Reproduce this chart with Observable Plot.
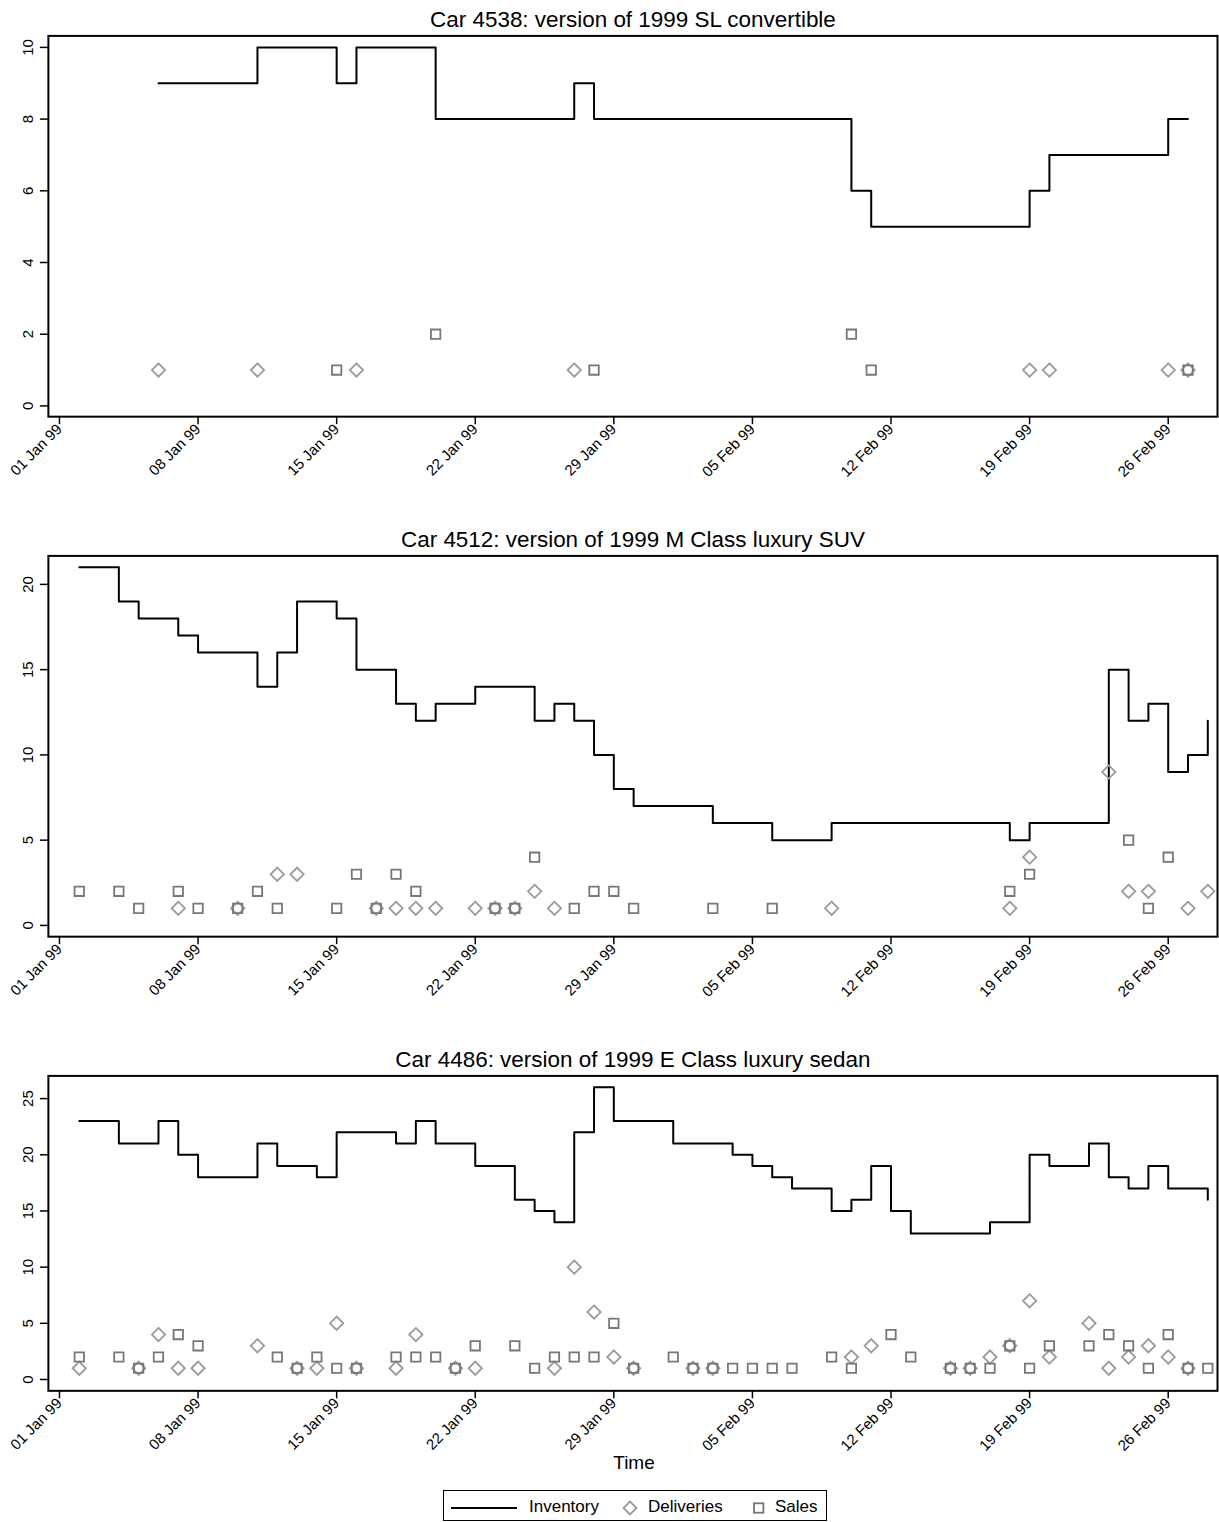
<!DOCTYPE html>
<html>
<head>
<meta charset="utf-8">
<script src="https://cdn.jsdelivr.net/npm/d3@7"></script>
<script src="https://cdn.jsdelivr.net/npm/@observablehq/plot@0.6"></script>
<style>
  html, body { margin: 0; padding: 0; background: #fff; }
  #wrap { position: relative; width: 1219px; height: 1522px; overflow: hidden; background: #fff;
          font-family: "Liberation Sans", Arial, Helvetica, sans-serif; color: #000; }
  #wrap svg { position: absolute; left: 0; }
  .abs { position: absolute; white-space: nowrap; }
</style>
</head>
<body>
<div id="wrap"></div>
<script>
// ---------- data (day offsets from 01 Jan 1999) ----------
const startDate = "1999-01-01";
const tickDates = ["1999-01-01","1999-01-08","1999-01-15","1999-01-22","1999-01-29","1999-02-05","1999-02-12","1999-02-19","1999-02-26"];

const titles = [
  "Car 4538: version of 1999 SL convertible",
  "Car 4512: version of 1999 M Class luxury SUV",
  "Car 4486: version of 1999 E Class luxury sedan"
];

// Car 4538
const inv4538Day = [5,10,14,15,19,26,27,40,41,49,50,56,57];
const inv4538Val = [9,10,9,10,8,9,8,6,5,6,7,8,8];
const del4538Day = [5,10,15,26,49,50,56,57];
const del4538Val = [1,1,1,1,1,1,1,1];
const sal4538Day = [14,19,27,40,41,57];
const sal4538Val = [1,2,1,2,1,1];

// Car 4512
const inv4512Day = [1,3,4,6,7,10,11,12,14,15,17,18,19,21,24,25,26,27,28,29,33,36,39,48,49,53,54,55,56,57,58];
const inv4512Val = [21,19,18,17,16,14,16,19,18,15,13,12,13,14,12,13,12,10,8,7,6,5,6,5,6,15,12,13,9,10,12];
const del4512Day = [6,9,11,12,16,17,18,19,21,22,23,24,25,39,48,49,53,54,55,57,58];
const del4512Val = [1,1,3,3,1,1,1,1,1,1,1,2,1,1,1,4,9,2,2,1,2];
const sal4512Day = [1,3,4,6,7,9,10,11,14,15,16,17,18,22,23,24,26,27,28,29,33,36,48,49,54,55,56];
const sal4512Val = [2,2,1,2,1,1,2,1,1,3,1,3,2,1,1,4,1,2,2,1,1,1,2,3,5,1,4];

// Car 4486
const inv4486Day = [1,3,5,6,7,10,11,13,14,17,18,19,21,23,24,25,26,27,28,31,34,35,36,37,39,40,41,42,43,47,49,50,52,53,54,55,56,58];
const inv4486Val = [23,21,23,20,18,21,19,18,22,21,23,21,19,16,15,14,22,26,23,21,20,19,18,17,15,16,19,15,13,14,20,19,21,18,17,19,17,16];
const del4486Day = [1,4,5,6,7,10,12,13,14,15,17,18,20,21,25,26,27,28,29,32,33,40,41,45,46,47,48,49,50,52,53,54,55,56,57];
const del4486Val = [1,1,4,1,1,3,1,1,5,1,1,4,1,1,1,10,6,2,1,1,1,2,3,1,1,2,3,7,2,5,1,2,3,2,1];
const sal4486Day = [1,3,4,5,6,7,11,12,13,14,15,17,18,19,20,21,23,24,25,26,27,28,29,31,32,33,34,35,36,37,39,40,42,43,45,46,47,48,49,50,52,53,54,55,56,57,58];
const sal4486Val = [2,2,1,2,4,3,2,1,2,1,1,2,2,2,1,3,3,1,2,2,2,5,1,2,1,1,1,1,1,1,2,1,4,2,1,1,1,3,1,3,3,4,3,1,4,1,1];

const yTicks1 = [0,2,4,6,8,10];
const yTicks2 = [0,5,10,15,20];
const yTicks3 = [0,5,10,15,20,25];

// ---------- helpers ----------
const base = new Date(startDate + "T00:00:00Z");
const dayToDate = d => new Date(base.getTime() + d * 86400000);
const rows = (days, vals) => days.map((d, i) => ({date: dayToDate(d), value: vals[i]}));
const xDomain = [dayToDate(-0.56), dayToDate(58.49)];
const xTickValues = tickDates.map(s => new Date(s + "T00:00:00Z"));
const fmt = d3.utcFormat("%d %b %y");
const FONT = '"Liberation Sans", Arial, Helvetica, sans-serif';

function panel({title, inv, del, sal, yDomain, yTicks, top, height, plotH}) {
  const marginTop = 35.5;
  const svg = Plot.plot({
    width: 1222,
    height,
    marginTop,
    marginLeft: 48,
    marginRight: 2,
    marginBottom: height - marginTop - plotH,
    style: {fontFamily: FONT, fontSize: "15px", background: "transparent", color: "#000", overflow: "visible"},
    x: {type: "utc", domain: xDomain},
    y: {domain: yDomain},
    marks: [
      Plot.axisX({ticks: xTickValues, tickFormat: fmt, tickRotate: -45, tickSize: 8, tickPadding: 2,
                  fontSize: 15, strokeWidth: 1.5, label: null}),
      Plot.axisY({ticks: yTicks, tickRotate: -90, tickSize: 8, tickPadding: 7,
                  fontSize: 15, strokeWidth: 1.5, label: null}),
      Plot.line(inv, {x: "date", y: "value", curve: "step-after", stroke: "#000", strokeWidth: 2}),
      Plot.dot(del, {x: "date", y: "value", symbol: "diamond2", r: 6, fill: "none", stroke: "#9a9a9a", strokeWidth: 1.8}),
      Plot.dot(sal, {x: "date", y: "value", symbol: "square2", r: 6, fill: "none", stroke: "#777777", strokeWidth: 1.8}),
      Plot.frame({stroke: "#000", strokeWidth: 2}),
      Plot.text([title], {frameAnchor: "top", dy: -9, lineAnchor: "bottom", fontSize: 22.5, fill: "#000"})
    ]
  });
  svg.style.top = top + "px";
  return svg;
}

const wrap = document.getElementById("wrap");
wrap.appendChild(panel({
  title: titles[0], inv: rows(inv4538Day, inv4538Val), del: rows(del4538Day, del4538Val), sal: rows(sal4538Day, sal4538Val),
  yDomain: [-0.3, 10.32], yTicks: yTicks1, top: 0, height: 520, plotH: 381.7
}));
wrap.appendChild(panel({
  title: titles[1], inv: rows(inv4512Day, inv4512Val), del: rows(del4512Day, del4512Val), sal: rows(sal4512Day, sal4512Val),
  yDomain: [-0.66, 21.67], yTicks: yTicks2, top: 520, height: 520, plotH: 381.7
}));
wrap.appendChild(panel({
  title: titles[2], inv: rows(inv4486Day, inv4486Val), del: rows(del4486Day, del4486Val), sal: rows(sal4486Day, sal4486Val),
  yDomain: [-1.01, 27.02], yTicks: yTicks3, top: 1040, height: 482, plotH: 315.7
}));

// ---------- axis title ----------
const xTitle = document.createElement("div");
xTitle.className = "abs";
xTitle.textContent = "Time";
xTitle.style.cssText += "left:0;width:1268px;text-align:center;top:1451px;font-size:19px;line-height:24px;";
wrap.appendChild(xTitle);

// ---------- legend ----------
const legendItems = ["Inventory", "Deliveries", "Sales"];
const leg = document.createElement("div");
leg.className = "abs";
leg.style.cssText += "left:443px;top:1490px;width:382px;height:29px;border:1.5px solid #000;background:#fff;";
leg.innerHTML =
  '<svg width="382" height="29" style="position:absolute;left:0;top:0">' +
  '<line x1="7" x2="73" y1="17" y2="17" stroke="#000" stroke-width="2"/>' +
  '<path d="M186,10.5 L192.5,17 L186,23.5 L179.5,17 Z" fill="none" stroke="#9a9a9a" stroke-width="1.8"/>' +
  '<rect x="310" y="12.3" width="9.4" height="9.4" fill="none" stroke="#777" stroke-width="1.8"/>' +
  '</svg>' +
  '<span class="abs" style="left:85px;top:5px;font-size:17px;line-height:22px">' + legendItems[0] + '</span>' +
  '<span class="abs" style="left:204px;top:5px;font-size:17px;line-height:22px">' + legendItems[1] + '</span>' +
  '<span class="abs" style="left:331px;top:5px;font-size:17px;line-height:22px">' + legendItems[2] + '</span>';
wrap.appendChild(leg);
</script>
</body>
</html>
